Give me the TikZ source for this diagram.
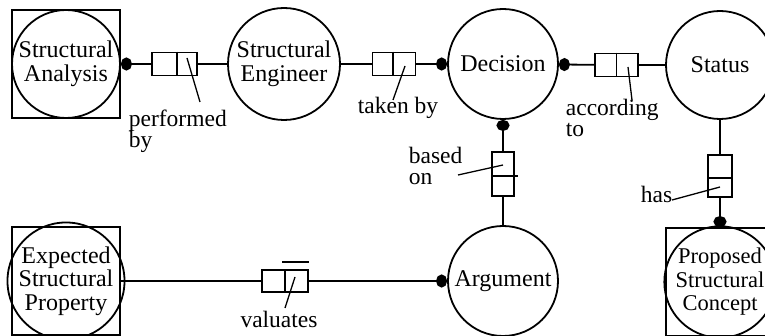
\documentclass[tikz,border=0pt]{standalone}
\usepackage{fontspec}
\setmainfont{Liberation Serif}
\usetikzlibrary{arrows.meta,calc}
\begin{document}
\begin{tikzpicture}[x=1pt,y=-1pt,line width=1.8pt,
  entity/.style={circle,draw,minimum size=110pt,inner sep=0pt,align=center,
    font=\fontsize{24}{23.5}\selectfont},
  boxedentity/.style={entity,minimum size=108pt},
  frame/.style={rectangle,draw,minimum size=108pt,inner sep=0pt},
  relbox/.style={rectangle,draw,minimum width=44pt,minimum height=23pt,inner sep=0pt},
  relvbox/.style={rectangle,draw,minimum width=22pt,minimum height=44pt,inner sep=0pt},
  lbl/.style={inner sep=0pt,align=left,font=\fontsize{23.5}{21.5}\selectfont},
  leader/.style={line width=1.3pt},
  dotstart/.style={{Circle[length=11pt,width=13pt]}-},
  dotend/.style={-{Circle[length=11pt,width=13pt]}}]
\useasboundingbox (0,0) rectangle (765,336);
\clip (0,0) rectangle (765,336);

% entity types
\node[frame] (saF) at (66,64) {};
\node[boxedentity] (sa) at (66,64) {Structural\\Analysis};
\node[entity,minimum size=112pt] (se) at (284,64) {Structural\\Engineer};
\node[entity] (dec) at (503,64) {Decision};
\node[boxedentity] (st) at (720,65) {Status};
\node[entity] (arg) at (503,281) {Argument};
\node[frame] (epF) at (66,281) {};
\node[boxedentity] (ep) at (66,281) {Expected\\Structural\\Property};
\node[frame] (pscF) at (720,282) {};
\node[boxedentity,font=\fontsize{22.5}{23.5}\selectfont] (psc) at (720,282)
  {Proposed\\Structural\\Concept};

% relationship boxes
\node[relbox,minimum width=45pt] (rPerf) at (174.5,64) {};
\node[relbox,minimum width=43pt] (rTaken) at (394,64) {};
\node[relbox,minimum width=43pt] (rAcc) at (616.5,65) {};
\node[relvbox] (rBased) at (503,174) {};
\node[relvbox,minimum width=24pt,minimum height=42pt] (rHas) at (720,176) {};
\node[relbox,minimum width=46pt,minimum height=22pt] (rVal) at (285,281) {};

% compartment dividers
\draw ($(rPerf.north)+(2.5,0)$) -- ($(rPerf.south)+(2.5,0)$);
\draw ($(rTaken.north)+(-1,0)$) -- ($(rTaken.south)+(-1,0)$);
\draw (rAcc.north) -- (rAcc.south);
\draw ($(rBased.west)+(0,2)$) -- ($(rBased.east)+(3,2)$);
\draw ($(rHas.west)+(0,2)$) -- ($(rHas.east)+(0,2)$);
\draw (rVal.north) -- (rVal.south);
\draw ($(rVal.north)+(-3,-7)$) -- ($(rVal.north east)+(0,-7)$);

% connectors
\draw[dotstart] (saF) -- (rPerf);
\draw (rPerf) -- (se);
\draw (se) -- (rTaken);
\draw[dotend] (rTaken) -- (dec);
\draw[dotstart] (dec) -- (rAcc);
\draw (rAcc) -- (st);
\draw[dotstart] (dec) -- (rBased);
\draw (rBased) -- (arg);
\draw (st) -- (rHas);
\draw[dotend] (rHas) -- (pscF);
\draw (epF) -- (rVal);
\draw[dotend] (rVal) -- (arg);

% role labels (base anchor sits on the last line)
\node[lbl,anchor=base west] (lPerf) at (128,148) {performed\\by};
\node[lbl,anchor=base] (lTaken) at (398,114) {taken by};
\node[lbl,anchor=base west] (lAcc) at (565,137) {according\\to};
\node[lbl,anchor=base west] (lBased) at (408,185) {based\\on};
\node[lbl,anchor=base west] (lHas) at (640,203) {has};
\node[lbl,anchor=base] (lVal) at (279,327) {valuates};

% leader lines
\coordinate (pPerf) at (187,58);   \coordinate (qPerf) at (200,102);
\coordinate (pTaken) at (405,66);  \coordinate (qTaken) at (393,100);
\coordinate (pAcc) at (628,67);    \coordinate (qAcc) at (632,100);
\coordinate (pBased) at (503,165); \coordinate (qBased) at (458,175);
\coordinate (pHas) at (720,187);   \coordinate (qHas) at (672,200);
\coordinate (pVal) at (295,277);   \coordinate (qVal) at (285,308);
\draw[leader] (pPerf) -- (qPerf);
\draw[leader] (pTaken) -- (qTaken);
\draw[leader] (pAcc) -- (qAcc);
\draw[leader] (pBased) -- (qBased);
\draw[leader] (pHas) -- (qHas);
\draw[leader] (pVal) -- (qVal);
\end{tikzpicture}
\end{document}
